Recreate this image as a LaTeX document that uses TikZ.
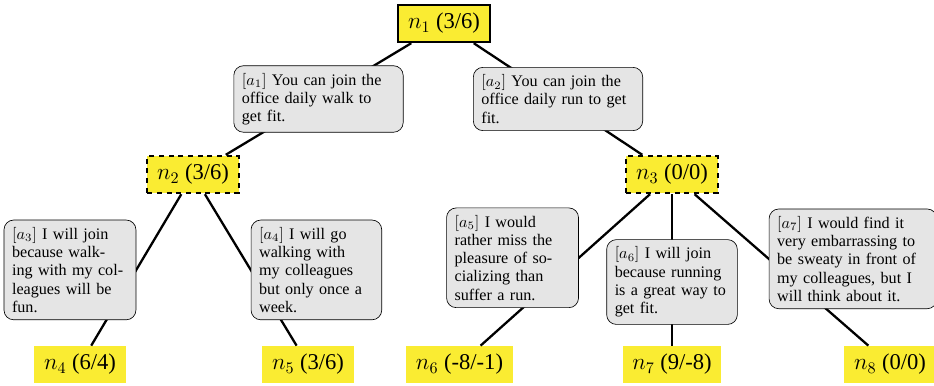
\documentclass[tikz,border=0pt]{standalone}
\usepackage{amsfonts,amsmath,amssymb}
\usepackage[no-math]{fontspec}
\setmainfont{Liberation Serif}
\usepackage{xcolor}
\usepackage{tikz}
\usetikzlibrary{shapes,calc}
\usetikzlibrary{positioning}
\definecolor{stateyellow}{RGB}{250,236,50}

\begin{document}
\begin{tikzpicture}[x=0.62pt,y=-0.62pt,
	nodestate/.style={fill=stateyellow,inner xsep=6pt,minimum height=23pt,font=\fontsize{14}{16}\selectfont},
	rootstate/.style={nodestate,draw,line width=0.5mm},
	openstate/.style={nodestate,draw,dashed,line width=0.5mm},
	arg/.style={draw,line width=0.4pt,solid,fill=gray!20,rounded corners=6pt,align=left,inner xsep=5pt,inner ysep=4.5pt,font=\fontsize{10}{11.3}\selectfont}]
	
	\useasboundingbox (0,0) rectangle (934,386);
	
	% root
	\node[rootstate] (n1) at (444,23.5) {$n_1$ (3/6)};
	
	% second level
	\node[openstate] (n2) at (193,174.5) {$n_2$ (3/6)};
	\node[openstate] (n3) at (672,174.5) {$n_3$ (0/0)};
	
	% leaves
	\node[nodestate] (n4) at (80,364.5) {$n_4$ (6/4)};
	\node[nodestate] (n5) at (308,364.5) {$n_5$ (3/6)};
	\node[nodestate] (n6) at (459.5,364.5) {$n_6$ (-8/-1)};
	\node[nodestate] (n7) at (672,364.5) {$n_7$ (9/-8)};
	\node[nodestate] (n8) at (890,364.5) {$n_8$ (0/0)};
	
	% moves of n1
	\draw[line width=0.5mm] (n1) -- node[arg,text width=95pt] (a1) {$[a_1]$ You can join the\\office daily walk to\\get fit.} (n2);
	\draw[line width=0.5mm] (n1) -- node[arg,text width=95pt] (a2) {$[a_2]$ You can join the\\office daily run to get\\fit.} (n3);
	
	% moves of n2
	\draw[line width=0.5mm] (n2) -- node[arg,text width=71.8pt,anchor=east] (a3) {$[a_3]$ I will join\\because walk-\\ing with my col-\\leagues will be\\fun.} (n4);
	\draw[line width=0.5mm] (n2) -- node[arg,text width=71pt,anchor=west] (a4) {$[a_4]$ I will go\\walking with\\my colleagues\\but only once a\\week.} (n5);
	
	% moves of n3
	\draw[line width=0.5mm] (n3) -- node[arg,text width=71.8pt,pos=0.42,anchor=east] (a5) {$[a_5]$ I would\\rather miss the\\pleasure of so-\\cializing than\\suffer a run.} (n6);
	\draw[line width=0.5mm] (n3) -- node[arg,text width=71pt,pos=0.58] (a6) {$[a_6]$ I will join\\because running\\is a great way to\\get fit.} (n7);
	\draw[line width=0.5mm] (n3) -- node[arg,text width=94pt,pos=0.427,anchor=west] (a7) {$[a_7]$ I would find it\\very embarrassing to\\be sweaty in front of\\my colleagues, but I\\will think about it.} (n8);
	
\end{tikzpicture}
\end{document}
